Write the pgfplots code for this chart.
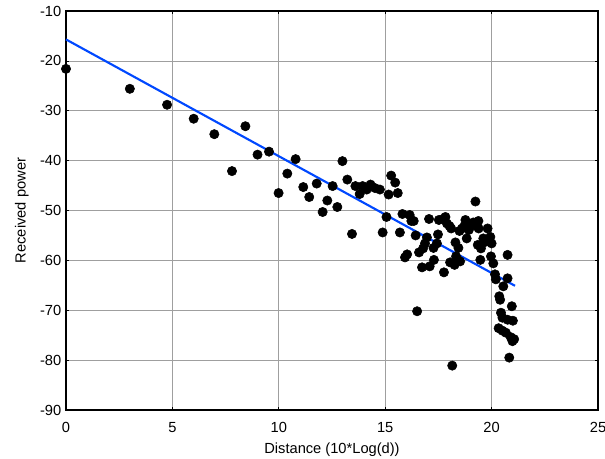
\documentclass[border=0pt]{standalone}
\usepackage{fontspec}
\setmainfont{Liberation Sans}
\usepackage{pgfplots}
\pgfplotsset{compat=1.18}

\begin{document}
\begin{tikzpicture}
\begin{axis}[
    scale only axis,
    width=399pt, height=299.25pt,
    xmin=0, xmax=25, ymin=-90, ymax=-10,
    xtick={0,5,...,25}, ytick={-90,-80,...,-10},
    grid=major,
    major grid style={gray!75, line width=0.5pt},
    axis line style={black, line width=1.3pt},
    tick style={black, line width=0.5pt},
    tick align=inside,
    major tick length=2.5pt,
    xlabel={Distance (10*Log(d))},
    ylabel={Received power},
    ticklabel style={font=\fontsize{11}{13}\selectfont},
    label style={font=\fontsize{11}{13}\selectfont},
    xticklabel style={yshift=-6pt},
    /pgf/number format/assume math mode=true,
    xlabel style={at={(axis description cs:0.5,-0.1)}, anchor=center},
    ylabel style={at={(axis description cs:-0.083,0.5)}, anchor=center},
    clip=false,
]
\addplot[only marks, mark=*, mark size=3.5pt, black] coordinates {
(0,-21.6) (3.0,-25.6) (4.75,-28.8) (6.0,-31.6) (6.97,-34.7) (8.43,-33.1)
(7.8,-42.1) (9.0,-38.8) (9.54,-38.2) (10.79,-39.7) (9.99,-46.5) (10.4,-42.6)
(11.15,-45.3) (11.43,-47.3) (11.78,-44.6) (12.06,-50.3) (12.28,-48.0)
(12.53,-45.1) (12.75,-49.3) (12.99,-40.1) (13.22,-43.8) (13.44,-54.7)
(13.6,-45.1) (13.8,-46.7) (13.94,-45.1) (14.13,-45.8) (14.31,-44.8)
(14.52,-45.5) (14.75,-45.8) (15.16,-46.8) (15.28,-43.0) (15.47,-44.4)
(15.59,-46.5) (14.88,-54.4) (15.06,-51.3) (15.81,-50.7) (15.69,-54.4)
(16.15,-50.9) (16.23,-52.1) (16.34,-52.1) (16.43,-55.0) (16.96,-55.4)
(16.87,-56.6) (16.78,-57.6) (16.59,-58.4) (16.03,-58.8) (15.93,-59.4)
(16.73,-61.4) (17.09,-61.2) (17.29,-59.9) (17.06,-51.7) (17.27,-57.5)
(17.43,-56.6) (17.48,-54.8) (17.52,-51.9) (17.71,-51.7) (17.83,-51.3)
(17.9,-52.6) (18.02,-53.1) (18.1,-53.6) (17.76,-62.4) (18.05,-60.4)
(18.26,-60.9) (18.41,-59.9) (18.52,-60.2) (18.33,-59.2) (18.3,-56.4)
(18.44,-57.5) (18.49,-54.1) (18.61,-53.6) (18.72,-53.1) (18.77,-51.9)
(18.83,-55.6) (18.93,-53.9) (19.03,-52.9) (19.14,-52.4) (19.27,-53.1)
(19.38,-52.1) (19.24,-48.2) (19.39,-53.6) (19.35,-56.9) (19.5,-57.6)
(19.47,-59.9) (19.61,-55.6) (19.7,-56.3) (19.81,-53.6) (19.94,-55.3)
(20.0,-56.6) (19.97,-59.2) (20.08,-60.6) (20.16,-62.8) (20.2,-63.8)
(20.75,-58.9) (20.75,-63.6) (20.55,-65.2) (20.36,-67.2) (20.4,-67.9)
(20.95,-69.2) (20.44,-70.5) (20.51,-71.5) (20.75,-71.9) (21.0,-72.1)
(20.33,-73.6) (20.51,-74.1) (20.67,-74.5) (20.9,-75.4) (21.06,-75.8)
(20.98,-76.2) (20.83,-79.5) (18.15,-81.1) (16.5,-70.2)
};
\addplot[color={rgb,255:red,0;green,72;blue,255}, line width=1.6pt] coordinates {
(0,-15.7) (21.1,-65.1)
};
\end{axis}
\pgfresetboundingbox
\path (-49.5pt,-36.75pt) rectangle (404.25pt,307.5pt);
\end{tikzpicture}
\end{document}
